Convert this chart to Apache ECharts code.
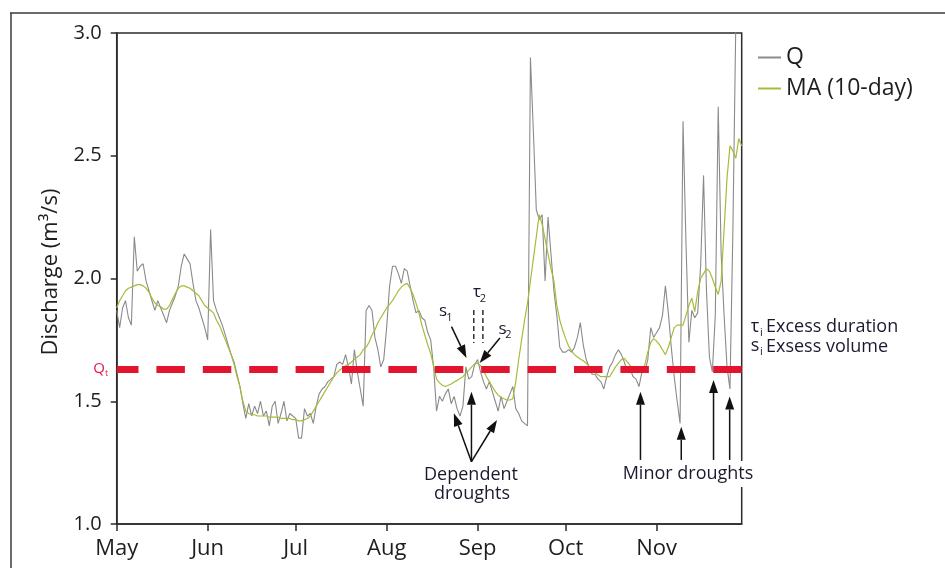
<!DOCTYPE html>
<html><head><meta charset="utf-8">
<script src="https://cdn.jsdelivr.net/npm/echarts@6/dist/echarts.min.js"></script>
<style>html,body{margin:0;padding:0;background:#fff}#c{width:945px;height:568px}</style>
</head><body><div id="c"></div>
<script>
// ---------- data ----------
const monthLabels = ['May','Jun','Jul','Aug','Sep','Oct','Nov'];
const monthStartDays = [0, 31, 61, 92, 123, 153, 184];
const yTickValues = [1.0, 1.5, 2.0, 2.5, 3.0];
const qThreshold = 1.63;
// daily discharge Q (m3/s), day 0 = 1 May
const qValues = [
  1.87,1.80,1.88,1.91,1.84,1.81,2.17,2.03,2.05,2.06,
  1.99,1.95,1.91,1.87,1.91,1.88,1.85,1.82,1.87,1.90,
  1.93,1.97,2.05,2.10,2.08,2.06,1.98,1.91,1.88,1.84,
  1.80,1.75,2.20,1.91,1.87,1.84,1.81,1.77,1.73,1.69,
  1.66,1.61,1.56,1.49,1.43,1.49,1.44,1.48,1.45,1.50,
  1.44,1.46,1.40,1.48,1.50,1.41,1.45,1.50,1.42,1.45,
  1.44,1.43,1.35,1.35,1.47,1.44,1.45,1.41,1.48,1.53,
  1.55,1.56,1.58,1.59,1.60,1.65,1.66,1.65,1.69,1.64,
  1.57,1.71,1.62,1.55,1.48,1.87,1.89,1.87,1.76,1.71,
  1.64,1.67,1.80,1.97,2.05,2.05,2.02,1.98,2.04,2.03,
  1.97,1.91,1.86,1.87,1.84,1.83,1.78,1.75,1.64,1.46,
  1.52,1.50,1.53,1.55,1.49,1.52,1.47,1.44,1.48,1.64,
  1.59,1.60,1.65,1.67,1.62,1.58,1.55,1.58,1.54,1.50,
  1.46,1.52,1.47,1.50,1.53,1.56,1.47,1.45,1.42,1.41,
  1.40,2.90,2.60,2.28,2.24,2.26,1.99,2.25,2.10,1.95,
  1.85,1.72,1.70,1.70,1.71,1.70,1.72,1.76,1.82,1.73,
  1.67,1.64,1.61,1.61,1.59,1.58,1.55,1.60,1.64,1.66,
  1.69,1.71,1.69,1.66,1.62,1.63,1.60,1.59,1.56,1.62,
  1.62,1.67,1.80,1.76,1.78,1.80,1.85,1.97,1.86,1.72,
  1.60,1.50,1.41,2.64,2.15,1.74,1.87,1.84,1.86,2.05,
  2.42,1.95,1.68,1.62,1.85,2.70,2.10,1.85,1.64,1.55,
  2.20,3.05,3.20,3.20
];
// 10-day moving average as drawn
const maValues = [
  1.88,1.91,1.93,1.95,1.96,1.965,1.97,1.975,1.975,1.97,
  1.96,1.945,1.92,1.90,1.89,1.885,1.875,1.875,1.89,1.915,
  1.94,1.96,1.97,1.97,1.965,1.96,1.95,1.94,1.93,1.91,
  1.89,1.88,1.87,1.86,1.83,1.81,1.78,1.75,1.72,1.69,
  1.65,1.60,1.56,1.50,1.46,1.45,1.445,1.445,1.44,1.44,
  1.44,1.44,1.435,1.435,1.435,1.435,1.43,1.43,1.43,1.43,
  1.425,1.425,1.42,1.42,1.425,1.43,1.44,1.46,1.48,1.50,
  1.52,1.54,1.56,1.58,1.60,1.615,1.627,1.635,1.645,1.65,
  1.66,1.67,1.68,1.69,1.71,1.72,1.74,1.77,1.79,1.82,
  1.84,1.86,1.88,1.895,1.91,1.93,1.95,1.965,1.975,1.98,
  1.96,1.935,1.90,1.86,1.81,1.77,1.73,1.695,1.645,1.59,
  1.575,1.565,1.56,1.565,1.57,1.578,1.585,1.593,1.60,1.614,
  1.627,1.64,1.652,1.655,1.645,1.625,1.60,1.58,1.56,1.54,
  1.525,1.515,1.51,1.505,1.505,1.51,1.58,1.67,1.75,1.83,
  1.90,1.99,2.08,2.17,2.26,2.22,2.16,2.10,2.04,1.99,
  1.89,1.83,1.79,1.755,1.725,1.705,1.69,1.68,1.672,1.665,
  1.655,1.642,1.63,1.617,1.608,1.60,1.60,1.60,1.60,1.62,
  1.64,1.655,1.67,1.675,1.66,1.645,1.635,1.625,1.62,1.62,
  1.65,1.70,1.74,1.755,1.745,1.73,1.71,1.69,1.72,1.76,
  1.80,1.81,1.81,1.81,1.85,1.89,1.92,1.865,1.945,2.00,
  2.02,2.04,2.03,2.00,1.965,1.935,1.99,2.20,2.41,2.54,
  2.52,2.49,2.57,2.54
];
// annotation anchors in data coordinates [day, value]
const dependentArrowBase = [120.9, 1.254];
const dependentArrowTips = [[114.9, 1.451], [120.9, 1.539], [129.6, 1.424]];
const minorArrowBaseValue = 1.261;
const minorArrowTips = [[178.5, 1.539], [192.4, 1.396], [203.4, 1.587], [208.9, 1.519]];
const s1Arrow = [[114.1, 1.804], [119.2, 1.676]];
const s2Arrow = [[130.6, 1.758], [123.7, 1.656]];
const tauMarkers = [121.7, 124.8];
const tauRange = [1.872, 1.737];

// ---------- chart ----------
const FONT = '"Open Sans", "DejaVu Sans", sans-serif';
const INK = '#1e1e1e';
const chart = echarts.init(document.getElementById('c'));
const days = qValues.map((_, i) => i);

chart.setOption({
  animation: false,
  backgroundColor: '#fff',
  textStyle: { fontFamily: FONT },
  grid: { left: 116.7, top: 33, right: 203.3, bottom: 44, show: true, borderColor: '#2b2b2b', borderWidth: 1.5, backgroundColor: 'transparent' },
  legend: {
    orient: 'vertical', left: 758, top: 46, padding: 0, itemGap: 8,
    itemWidth: 23, itemHeight: 2, icon: 'rect',
    textStyle: { fontSize: 23, color: INK, fontFamily: FONT },
    data: ['Q', 'MA (10-day)']
  },
  xAxis: {
    type: 'value', min: 0, max: qValues.length - 1,
    axisLine: { onZero: false, lineStyle: { color: '#2b2b2b', width: 1.5 } },
    axisTick: { show: true, length: 7, customValues: monthStartDays, lineStyle: { color: '#2b2b2b', width: 1.5 } },
    axisLabel: { customValues: monthStartDays, formatter: v => monthLabels[monthStartDays.indexOf(v)], fontSize: 22, color: INK, margin: 14, fontFamily: FONT },
    splitLine: { show: false }
  },
  yAxis: {
    type: 'value', min: yTickValues[0], max: yTickValues[yTickValues.length - 1], interval: 0.5,
    axisLine: { show: true, lineStyle: { color: '#2b2b2b', width: 1.5 } },
    axisTick: { show: true, length: 6, lineStyle: { color: '#2b2b2b', width: 1.5 } },
    axisLabel: { formatter: v => v.toFixed(1), fontSize: 20, color: INK, margin: 15, fontFamily: FONT },
    splitLine: { show: false }
  },
  series: [
    {
      name: 'Q', type: 'line', data: days.map(d => [d, qValues[d]]), symbol: 'none', clip: true,
      lineStyle: { color: '#8a8a8a', width: 1.1 }, itemStyle: { color: '#8a8a8a' }, z: 3
    },
    {
      name: 'MA (10-day)', type: 'line', data: days.map(d => [d, maValues[d]]), symbol: 'none', clip: true,
      lineStyle: { color: '#a9ba3a', width: 1.2 }, itemStyle: { color: '#a9ba3a' }, z: 4,
      markLine: {
        silent: true, symbol: ['none', 'none'], label: { show: false },
        lineStyle: { color: '#e3142e', width: 7, type: [28.5, 17.9], dashOffset: 6.7, opacity: 1 },
        emphasis: { disabled: true },
        data: [{ yAxis: qThreshold }]
      }
    }
  ]
});

// ---------- annotations ----------
const px = p => chart.convertToPixel({ gridIndex: 0 }, p);
function arrow(p0, p1) {
  const dx = p1[0] - p0[0], dy = p1[1] - p0[1];
  const L = Math.hypot(dx, dy), ux = dx / L, uy = dy / L;
  const hl = 13, hw = 4.5;
  const bx = p1[0] - ux * hl, by = p1[1] - uy * hl;
  return [
    { type: 'line', z: 100, shape: { x1: p0[0], y1: p0[1], x2: bx, y2: by }, style: { stroke: '#111', lineWidth: 1.5 } },
    { type: 'polygon', z: 100, shape: { points: [[p1[0], p1[1]], [bx - uy * hw, by + ux * hw], [bx + uy * hw, by - ux * hw]] }, style: { fill: '#111' } }
  ];
}
function txt(text, x, y, size, opts) {
  return Object.assign({ type: 'text', z: 101, x: x, y: y,
    style: Object.assign({ text: text, fontSize: size, fontFamily: FONT, fill: '#1a1a2e', align: 'center', verticalAlign: 'middle' }, (opts || {}).style || {}) },
    (opts || {}).el || {});
}
const g = [];
// outer figure frame
g.push({ type: 'line', z: 90, shape: { x1: 11, y1: 13, x2: 11, y2: 568 }, style: { stroke: '#3a3a3a', lineWidth: 1.5 } });
g.push({ type: 'line', z: 90, shape: { x1: 10, y1: 13, x2: 945, y2: 13 }, style: { stroke: '#3a3a3a', lineWidth: 1.5 } });
// y axis title
g.push(txt('Discharge (m³/s)', 51, 272, 22, { el: { rotation: Math.PI / 2 }, style: { fill: INK } }));
// Q_t label
const qtY = px([0, qThreshold])[1];
g.push(txt('Q', 99, qtY - 1, 15, { style: { fill: '#e2184a' } }));
g.push(txt('t', 106.5, qtY + 4, 9, { style: { fill: '#e2184a' } }));
// dependent droughts arrows
const db = px(dependentArrowBase);
dependentArrowTips.forEach(t => g.push(...arrow(db, px(t))));
g.push(txt('Dependent', 471, 475, 18));
g.push(txt('droughts', 472, 494, 18));
// minor droughts arrows
minorArrowTips.forEach(t => g.push(...arrow(px([t[0], minorArrowBaseValue]), px(t))));
g.push(txt('Minor droughts', 688, 474, 18, { style: { backgroundColor: '#fff', padding: [4, 1, 4, 1] } }));
// s1, s2 arrows and labels
g.push(...arrow(px(s1Arrow[0]), px(s1Arrow[1])));
g.push(...arrow(px(s2Arrow[0]), px(s2Arrow[1])));
g.push(txt('s', 443, 311, 17));
g.push(txt('1', 449.5, 318, 11));
g.push(txt('s', 502.5, 329, 17));
g.push(txt('2', 508.5, 335, 11));
// tau2 dashed markers
tauMarkers.forEach(d => {
  const a = px([d, tauRange[0]]), b = px([d, tauRange[1]]);
  g.push({ type: 'line', z: 100, shape: { x1: a[0], y1: a[1], x2: b[0], y2: b[1] }, style: { stroke: '#111', lineWidth: 1.3, lineDash: [5, 3] } });
});
g.push(txt('τ', 477, 292, 17));
g.push(txt('2', 483, 299, 11));
// right-side notes
g.push(txt('τ', 755, 327, 18));
g.push(txt('i', 761.5, 333, 11));
g.push(txt('Excess duration', 766, 327, 18, { style: { align: 'left' } }));
g.push(txt('s', 755, 346, 18));
g.push(txt('i', 761.5, 352, 11));
g.push(txt('Exsess volume', 766, 347, 18, { style: { align: 'left' } }));

chart.setOption({ graphic: { elements: g } });
</script>
</body></html>
